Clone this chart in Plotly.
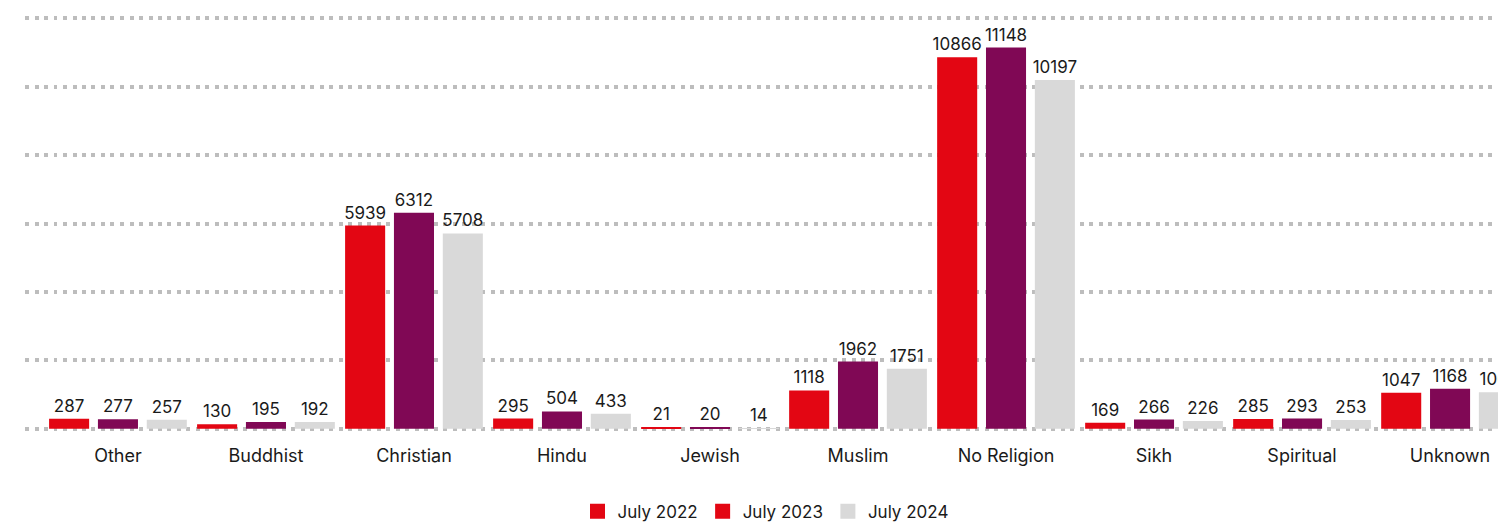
import plotly.graph_objects as go

categories = ["Other", "Buddhist", "Christian", "Hindu", "Jewish", "Muslim",
              "No Religion", "Sikh", "Spiritual", "Unknown"]
july_2022 = [287, 130, 5939, 295, 21, 1118, 10866, 169, 285, 1047]
july_2023 = [277, 195, 6312, 504, 20, 1962, 11148, 266, 293, 1168]
july_2024 = [257, 192, 5708, 433, 14, 1751, 10197, 226, 253, 1066]

series_names = ["July 2022", "July 2023", "July 2024"]
bar_colors = ["#E30613", "#800855", "#D9D9D9"]
legend_colors = ["#E30613", "#E30613", "#D9D9D9"]

FONT = "Inter"
TEXT = "#1a1a1a"

fig = go.Figure()
for i, (name, vals, col) in enumerate(zip(series_names, [july_2022, july_2023, july_2024], bar_colors)):
    fig.add_trace(go.Bar(
        x=categories, y=vals, name=name, marker_color=col, marker_line_width=0,
        text=[str(v) for v in vals], texttemplate="%{text}", textposition="outside",
        textfont=dict(family=FONT, size=17, color=TEXT),
        constraintext="none", showlegend=False, cliponaxis=True,
        offsetgroup=str(i),
    ))
# legend entries (the reference shows a red swatch for July 2023)
for name, col in zip(series_names, legend_colors):
    fig.add_trace(go.Scatter(x=[None], y=[None], name=name, mode="markers",
                             marker=dict(symbol="square", size=15, color=col),
                             showlegend=True, hoverinfo="skip"))

fig.update_layout(
    width=1498, height=516,
    margin=dict(l=17, r=0, t=9, b=94, autoexpand=False),
    paper_bgcolor="white", plot_bgcolor="white",
    barmode="group", bargap=0.01, bargroupgap=0.18,
    font=dict(family=FONT, color=TEXT),
    legend=dict(orientation="h", x=0.5, xanchor="center",
                yref="container", y=0.024, yanchor="middle",
                font=dict(family=FONT, size=17, color=TEXT), traceorder="normal"),
    xaxis=dict(type="category", range=[-0.628, 9.378], showgrid=False, showline=False,
               ticks="", tickfont=dict(family=FONT, size=18, color=TEXT),
               ticklabelstandoff=13, automargin=False),
    yaxis=dict(range=[-40, 12040], tickmode="linear", dtick=2000, tick0=0,
               showticklabels=False, showline=False, zeroline=False, showgrid=True,
               gridcolor="#BDBDBD", gridwidth=4, griddash="4px,5.5px", automargin=False),
)

fig.write_html("out.html")
